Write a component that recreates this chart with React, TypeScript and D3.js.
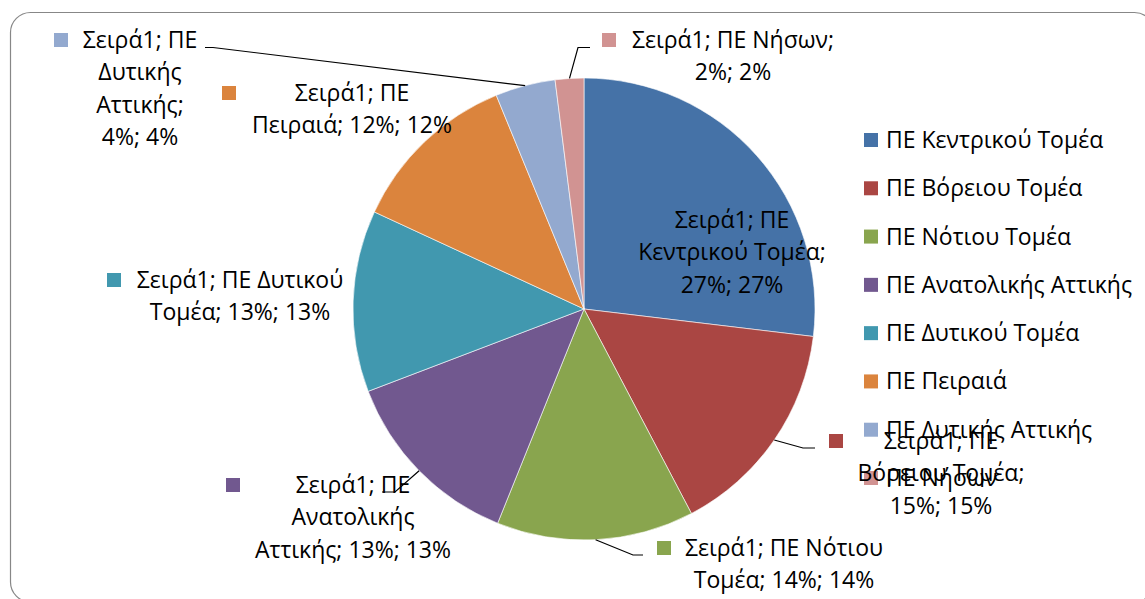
import React from "react";
import * as d3 from "d3";

const seriesName = "Σειρά1";
const categories = [
  "ΠΕ Κεντρικού Τομέα",
  "ΠΕ Βόρειου Τομέα",
  "ΠΕ Νότιου Τομέα",
  "ΠΕ Ανατολικής Αττικής",
  "ΠΕ Δυτικού Τομέα",
  "ΠΕ Πειραιά",
  "ΠΕ Δυτικής Αττικής",
  "ΠΕ Νήσων",
];
const values = [26.9, 15.4, 13.8, 13.1, 12.7, 11.9, 4.2, 2.0];
const percentLabels = ["27%", "15%", "14%", "13%", "13%", "12%", "4%", "2%"];
const colors = ["#4572A7", "#AA4643", "#89A54E", "#71588F", "#4198AF", "#DB843D", "#93A9CF", "#D19392"];

// wrapped text of each data label
const labelLines = [
  [`${seriesName}; ΠΕ`, "Κεντρικού Τομέα;", `${percentLabels[0]}; ${percentLabels[0]}`],
  [`${seriesName}; ΠΕ`, "Βόρειου Τομέα;", `${percentLabels[1]}; ${percentLabels[1]}`],
  [`${seriesName}; ΠΕ Νότιου`, `Τομέα; ${percentLabels[2]}; ${percentLabels[2]}`],
  [`${seriesName}; ΠΕ`, "Ανατολικής", `Αττικής; ${percentLabels[3]}; ${percentLabels[3]}`],
  [`${seriesName}; ΠΕ Δυτικού`, `Τομέα; ${percentLabels[4]}; ${percentLabels[4]}`],
  [`${seriesName}; ΠΕ`, `Πειραιά; ${percentLabels[5]}; ${percentLabels[5]}`],
  [`${seriesName}; ΠΕ`, "Δυτικής", "Αττικής;", `${percentLabels[6]}; ${percentLabels[6]}`],
  [`${seriesName}; ΠΕ Νήσων;`, `${percentLabels[7]}; ${percentLabels[7]}`],
];

// layout of labels (position/style only)
const labelLayout = [
  { cx: 732, y0: 228, marker: false, leader: null as null | number[][] },
  { cx: 941, y0: 449, marker: true, mx: 829, leader: [[803, 448], [815, 448]] },
  { cx: 784, y0: 556, marker: true, mx: 657, leader: [[633, 555], [643, 555]] },
  { cx: 353, y0: 493, marker: true, mx: 226, leader: [[395, 492], [382, 492]] },
  { cx: 240, y0: 288, marker: true, mx: 107, leader: null },
  { cx: 352, y0: 101, marker: true, mx: 222, leader: null },
  { cx: 140, y0: 48, marker: true, mx: 54, leader: [[213, 47.5], [205, 47.5]] },
  { cx: 733, y0: 48, marker: true, mx: 602, leader: [[578, 47.5], [590, 47.5]] },
];

const W = 1145;
const H = 599;
const CX = 584;
const CY = 309;
const R = 231;
const FONT = "'Open Sans', 'Noto Sans', sans-serif";
const FS = 23;
const LH = 32.3;

export default function App() {
  const pie = d3.pie<number>().sort(null).value((d) => d)(values);
  const arc = d3.arc<d3.PieArcDatum<number>>().innerRadius(0).outerRadius(R);
  const legendY = d3.scalePoint<string>().domain(categories).range([140, 478]);

  return (
    <svg
      width={W}
      height={H}
      style={{ position: "absolute", left: 0, top: 0, background: "#fff" }}
      fontFamily={FONT}
    >
      <rect x={10.5} y={12.5} width={1144} height={589.5} rx={20} ry={20} fill="#fff" stroke="#878787" strokeWidth={1.2} />
      <g transform={`translate(${CX},${CY})`}>
        {pie.map((p, i) => (
          <path key={i} d={arc(p) || ""} fill={colors[i]} stroke="#fff" strokeWidth={0.6} />
        ))}
      </g>
      {/* leader lines */}
      {pie.map((p, i) => {
        const lay = labelLayout[i];
        if (!lay.leader) return null;
        const mid = (p.startAngle + p.endAngle) / 2;
        const sx = CX + R * Math.sin(mid);
        const sy = CY - R * Math.cos(mid);
        const pts = [[sx, sy], ...lay.leader];
        return (
          <path key={i} d={d3.line()(pts as [number, number][]) || ""} fill="none" stroke="#000" strokeWidth={1.2} />
        );
      })}
      {/* legend */}
      {categories.map((c, i) => {
        const y = legendY(c) as number;
        return (
          <g key={c}>
            <rect x={864} y={y - 7} width={14} height={14} fill={colors[i]} />
            <text x={886} y={y + 8} fontSize={FS} fill="#000">
              {c}
            </text>
          </g>
        );
      })}
      {/* data labels */}
      {labelLines.map((lines, i) => {
        const lay = labelLayout[i];
        return (
          <g key={i}>
            {lay.marker && <rect x={lay.mx} y={lay.y0 - 15} width={14} height={14} fill={colors[i]} />}
            {lines.map((t, j) => (
              <text key={j} x={lay.cx} y={lay.y0 + j * LH} textAnchor="middle" fontSize={FS} fill="#000">
                {t}
              </text>
            ))}
          </g>
        );
      })}
    </svg>
  );
}
